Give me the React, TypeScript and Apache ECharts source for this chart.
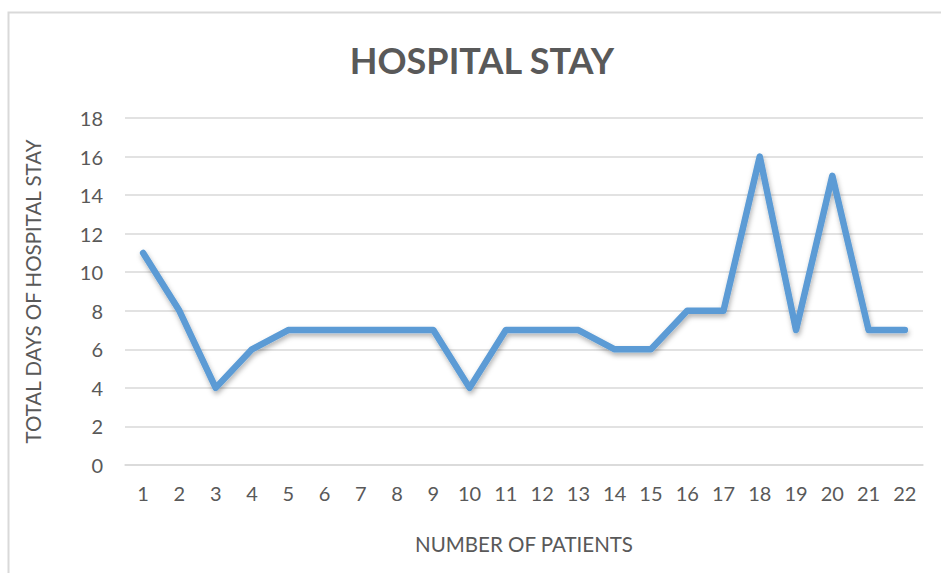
import React, { useEffect, useRef } from "react";
import * as echarts from "echarts";

const categories = ["1","2","3","4","5","6","7","8","9","10","11","12","13","14","15","16","17","18","19","20","21","22"];
const stayDays = [11, 8, 4, 6, 7, 7, 7, 7, 7, 4, 7, 7, 7, 6, 6, 8, 8, 16, 7, 15, 7, 7];

const FONT = "Lato, 'Open Sans', sans-serif";
const TEXT = "#595959";

export default function App() {
  const ref = useRef<HTMLDivElement>(null);
  useEffect(() => {
    if (!ref.current) return;
    const chart = echarts.init(ref.current, undefined, { renderer: "svg" });
    chart.setOption({
      animation: false,
      backgroundColor: "#ffffff",
      title: {
        text: "HOSPITAL STAY",
        left: 477,
        textAlign: "center",
        top: 37,
        textStyle: { fontFamily: FONT, fontSize: 36, fontWeight: "bold", color: TEXT },
      },
      graphic: [
        {
          type: "rect",
          shape: { x: 8.5, y: 12.5, width: 1000, height: 700 },
          style: { fill: "none", stroke: "#d9d9d9", lineWidth: 2 },
          silent: true,
        },
      ],
      grid: { left: 125, right: 18, top: 118, bottom: 108, containLabel: false },
      xAxis: {
        type: "category",
        data: categories,
        boundaryGap: true,
        name: "NUMBER OF PATIENTS",
        nameLocation: "middle",
        nameGap: 68,
        nameTextStyle: { fontFamily: FONT, fontSize: 20.5, color: TEXT },
        axisLine: { show: true, lineStyle: { color: "#d9d9d9", width: 1.5 } },
        axisTick: { show: false },
        axisLabel: { fontFamily: FONT, fontSize: 20, color: TEXT, margin: 18, interval: 0 },
      },
      yAxis: {
        type: "value",
        min: 0,
        max: 18,
        interval: 2,
        name: "TOTAL DAYS OF HOSPITAL STAY",
        nameLocation: "middle",
        nameGap: 82,
        nameRotate: 90,
        nameTextStyle: { fontFamily: FONT, fontSize: 20.5, color: TEXT },
        axisLine: { show: false },
        axisTick: { show: false },
        axisLabel: { fontFamily: FONT, fontSize: 20, color: TEXT, margin: 22 },
        splitLine: { lineStyle: { color: "#d9d9d9", width: 1.5 } },
      },
      series: [
        {
          type: "line",
          data: stayDays,
          symbol: "none",
          lineStyle: {
            color: "#5b9bd5",
            width: 6.5,
            cap: "round",
            join: "round",
            shadowColor: "rgba(0,0,0,0.3)",
            shadowBlur: 5,
            shadowOffsetX: 1,
            shadowOffsetY: 3,
          },
          itemStyle: { color: "#5b9bd5" },
        },
      ],
    });
    return () => chart.dispose();
  }, []);
  return <div ref={ref} style={{ position: "fixed", left: 0, top: 0, width: 941, height: 573 }} />;
}
